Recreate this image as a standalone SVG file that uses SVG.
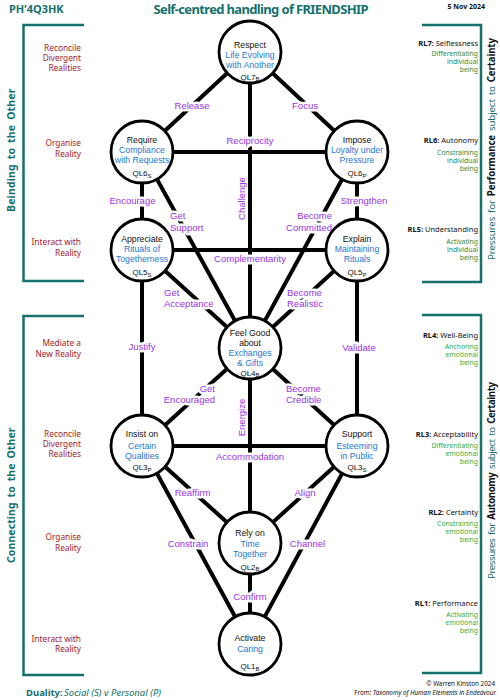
<svg xmlns="http://www.w3.org/2000/svg" width="500" height="700" viewBox="0 0 500 700">
<style>
text{font-family:"Noto Sans","Open Sans",sans-serif}
.n{font-family:"Liberation Sans",Arial,sans-serif;font-size:8.7px;fill:#111;text-anchor:middle}
.bl{fill:#1e78d0}
.ql{font-family:"Liberation Sans",Arial,sans-serif;font-size:8px;fill:#111;text-anchor:middle}
.lb{font-family:"Liberation Sans",Arial,sans-serif;font-size:9.5px;fill:#9a33e6;stroke:#fff;stroke-width:5;paint-order:stroke;stroke-linejoin:round}
.rot{font-family:"Liberation Sans",Arial,sans-serif;font-size:9.5px;fill:#9a33e6;text-anchor:middle}
.mid{text-anchor:middle}
.end{text-anchor:end}
.red{font-size:8.3px;fill:#a3202b;text-anchor:end}
.rl{font-size:7.5px;fill:#111;text-anchor:end}
.g1{font-size:6.8px;fill:#2b8a3e;text-anchor:end}
.g2{font-size:6.8px;fill:#1fae4a;text-anchor:end}
.teal{fill:#16706c}
.br{fill:none;stroke:#16706c;stroke-width:2.5}
.c{fill:#fff;stroke:#000;stroke-width:2.8}
#connectors line{stroke:#000;stroke-width:4}
</style>
<rect width="500" height="700" fill="#fff"/>

<!-- header -->
<text x="9" y="12.5" font-size="11" font-weight="bold" class="teal">PH’4Q3HK</text>
<text x="261" y="13.5" font-size="13" font-weight="bold" class="teal mid" textLength="215">Self-centred handling of FRIENDSHIP</text>
<text x="485" y="9" font-size="7" font-weight="bold" fill="#111" class="end">5 Nov 2024</text>

<!-- brackets -->
<g id="brackets">
<polyline class="br" points="84,25 23.5,25 23.5,281 84,281"/>
<polyline class="br" points="84,316 23.5,316 23.5,675 84,675"/>
<polyline class="br" points="422,25 481,25 481,282 422,282"/>
<polyline class="br" points="422,315 481,315 481,673 422,673"/>
</g>

<text transform="translate(14.7,150) rotate(-90)" font-size="10.5" font-weight="bold" class="teal mid" letter-spacing="0.5" word-spacing="2" textLength="124">Beinding to the Other</text>
<text transform="translate(14.7,495) rotate(-90)" font-size="10.5" font-weight="bold" class="teal mid" letter-spacing="0.5" word-spacing="2" textLength="136">Connecting to the Other</text>
<text transform="translate(494.5,149) rotate(-90)" font-size="9.7" class="teal mid" word-spacing="1.5" textLength="222">Pressures for <tspan font-weight="bold" fill="#111">Performance</tspan> subject to <tspan font-weight="bold" fill="#111">Certainty</tspan></text>
<text transform="translate(494.5,480.5) rotate(-90)" font-size="9.7" class="teal mid" word-spacing="1.5" textLength="197">Pressures for <tspan font-weight="bold" fill="#111">Autonomy</tspan> subject to <tspan font-weight="bold" fill="#111">Certainty</tspan></text>

<!-- left level labels -->
<g id="left-labels">
<text class="red" x="81" y="51">Reconcile</text>
<text class="red" x="81" y="61">Divergent</text>
<text class="red" x="81" y="71">Realities</text>
<text class="red" x="81" y="146">Organise</text>
<text class="red" x="81" y="157">Reality</text>
<text class="red" x="81" y="245">Interact with</text>
<text class="red" x="81" y="256">Reality</text>
<text class="red" x="81" y="346">Mediate a</text>
<text class="red" x="81" y="357">New Reality</text>
<text class="red" x="81" y="437">Reconcile</text>
<text class="red" x="81" y="447">Divergent</text>
<text class="red" x="81" y="457">Realities</text>
<text class="red" x="81" y="540">Organise</text>
<text class="red" x="81" y="551">Reality</text>
<text class="red" x="81" y="642">Interact with</text>
<text class="red" x="81" y="652">Reality</text>
</g>

<!-- right level labels -->
<g id="right-labels">
<text class="rl" x="478" y="45.5"><tspan font-weight="bold">RL7:</tspan> Selflessness</text>
<text class="g1" x="478" y="55.5">Differentiating</text>
<text class="g1" x="478" y="63.5">individual</text>
<text class="g1" x="478" y="71.5">being</text>
<text class="rl" x="478" y="142.5"><tspan font-weight="bold">RL6:</tspan> Autonomy</text>
<text class="g1" x="478" y="154.5">Constraining</text>
<text class="g1" x="478" y="162.5">individual</text>
<text class="g1" x="478" y="170.5">being</text>
<text class="rl" x="478" y="231.5"><tspan font-weight="bold">RL5:</tspan> Understanding</text>
<text class="g1" x="478" y="243.5">Activating</text>
<text class="g1" x="478" y="251.5">individual</text>
<text class="g1" x="478" y="259.5">being</text>
<text class="rl" x="478" y="337.5"><tspan font-weight="bold">RL4:</tspan> Well-Being</text>
<text class="g2" x="478" y="348.5">Anchoring</text>
<text class="g2" x="478" y="356.5">emotional</text>
<text class="g2" x="478" y="364.5">being</text>
<text class="rl" x="478" y="436.5"><tspan font-weight="bold">RL3:</tspan> Acceptability</text>
<text class="g2" x="478" y="447.5">Differentiating</text>
<text class="g2" x="478" y="455.5">emotional</text>
<text class="g2" x="478" y="463.5">being</text>
<text class="rl" x="478" y="514.5"><tspan font-weight="bold">RL2:</tspan> Certainty</text>
<text class="g2" x="478" y="525.5">Constraining</text>
<text class="g2" x="478" y="533.5">emotional</text>
<text class="g2" x="478" y="541.5">being</text>
<text class="rl" x="478" y="605.5"><tspan font-weight="bold">RL1:</tspan> Performance</text>
<text class="g2" x="478" y="616.5">Activating</text>
<text class="g2" x="478" y="624.5">emotional</text>
<text class="g2" x="478" y="632.5">being</text>
</g>

<!-- connectors -->
<g id="connectors">
<line x1="250" y1="52" x2="142" y2="152"/>
<line x1="250" y1="52" x2="357" y2="152"/>
<line x1="250" y1="52" x2="250" y2="348"/>
<line x1="142" y1="152" x2="357" y2="152"/>
<line x1="142" y1="152" x2="142" y2="446"/>
<line x1="357" y1="152" x2="357" y2="446"/>
<line x1="142" y1="152" x2="250" y2="348"/>
<line x1="357" y1="152" x2="250" y2="348"/>
<line x1="142" y1="250" x2="357" y2="250"/>
<line x1="142" y1="250" x2="250" y2="348"/>
<line x1="357" y1="250" x2="250" y2="348"/>
<line x1="250" y1="348" x2="142" y2="446"/>
<line x1="250" y1="348" x2="357" y2="446"/>
<line x1="250" y1="348" x2="250" y2="644"/>
<line x1="142" y1="446" x2="357" y2="446"/>
<line x1="142" y1="446" x2="250" y2="543"/>
<line x1="357" y1="446" x2="250" y2="543"/>
<line x1="142" y1="446" x2="250" y2="644"/>
<line x1="357" y1="446" x2="250" y2="644"/>
</g>

<!-- connector labels -->
<g id="connector-labels">
<text class="lb mid" x="192" y="108.5">Release</text>
<text class="lb mid" x="305" y="108.5">Focus</text>
<text class="lb mid" x="250" y="143.5">Reciprocity</text>
<text class="lb mid" x="132.5" y="204">Encourage</text>
<text class="lb mid" x="364" y="204">Strengthen</text>
<text class="lb" x="170" y="219">Get</text>
<text class="lb" x="170" y="230.5">Support</text>
<text class="lb end" x="332" y="219">Become</text>
<text class="lb end" x="332" y="230.5">Committed</text>
<text class="rot" transform="translate(244.5,198.5) rotate(-90)">Challenge</text>
<text class="lb mid" x="250" y="261.5">Complementarity</text>
<text class="lb" x="164" y="296">Get</text>
<text class="lb" x="164" y="306.5">Acceptance</text>
<text class="lb" x="287" y="296">Become</text>
<text class="lb" x="287" y="306.5">Realistic</text>
<text class="lb mid" x="142" y="349.5">Justify</text>
<text class="lb mid" x="359" y="350.5">Validate</text>
<text class="lb end" x="215" y="392">Get</text>
<text class="lb end" x="215" y="402.5">Encouraged</text>
<text class="lb" x="286" y="392">Become</text>
<text class="lb" x="286" y="402.5">Credible</text>
<text class="rot" transform="translate(244.5,417.5) rotate(-90)">Energize</text>
<text class="lb mid" x="250" y="459.5">Accommodation</text>
<text class="lb mid" x="192.5" y="495.5">Reaffirm</text>
<text class="lb mid" x="305" y="495.5">Align</text>
<text class="lb mid" x="188" y="546.5">Constrain</text>
<text class="lb mid" x="307.5" y="546.5">Channel</text>
<text class="lb mid" x="250" y="599.5">Confirm</text>
</g>

<!-- nodes -->
<g id="QL7">
<circle class="c" cx="250" cy="52" r="31"/>
<text class="n" x="250" y="47.5">Respect</text>
<text class="n bl" x="250" y="57.5">Life Evolving</text>
<text class="n bl" x="250" y="67.5">with Another</text>
<text class="ql" x="250" y="79.5">QL7<tspan font-size="6" dy="1.5">B</tspan></text>
</g>
<g id="QL6S">
<circle class="c" cx="142" cy="152" r="31"/>
<text class="n" x="142" y="142.5">Require</text>
<text class="n bl" x="142" y="153">Compliance</text>
<text class="n bl" x="142" y="163">with Requests</text>
<text class="ql" x="142" y="176">QL6<tspan font-size="6" dy="1.5">S</tspan></text>
</g>
<g id="QL6P">
<circle class="c" cx="357" cy="152" r="31"/>
<text class="n" x="357" y="142.5">Impose</text>
<text class="n bl" x="357" y="153">Loyalty under</text>
<text class="n bl" x="357" y="163">Pressure</text>
<text class="ql" x="357" y="176">QL6<tspan font-size="6" dy="1.5">P</tspan></text>
</g>
<g id="QL5S">
<circle class="c" cx="142" cy="250" r="31"/>
<text class="n" x="142" y="241.5">Appreciate</text>
<text class="n bl" x="142" y="252">Rituals of</text>
<text class="n bl" x="142" y="262">Togetherness</text>
<text class="ql" x="142" y="275">QL5<tspan font-size="6" dy="1.5">S</tspan></text>
</g>
<g id="QL5P">
<circle class="c" cx="357" cy="250" r="31"/>
<text class="n" x="357" y="241.5">Explain</text>
<text class="n bl" x="357" y="252">Maintaining</text>
<text class="n bl" x="357" y="262">Rituals</text>
<text class="ql" x="357" y="275">QL5<tspan font-size="6" dy="1.5">P</tspan></text>
</g>
<g id="QL4">
<circle class="c" cx="250" cy="348" r="31"/>
<text class="n" x="250" y="336">Feel Good</text>
<text class="n" x="250" y="345.5">about</text>
<text class="n bl" x="250" y="355.5">Exchanges</text>
<text class="n bl" x="250" y="365.5">&amp; Gifts</text>
<text class="ql" x="250" y="375.5">QL4<tspan font-size="6" dy="1.5">B</tspan></text>
</g>
<g id="QL3P">
<circle class="c" cx="142" cy="446" r="31"/>
<text class="n" x="142" y="437">Insist on</text>
<text class="n bl" x="142" y="448.5">Certain</text>
<text class="n bl" x="142" y="458.5">Qualities</text>
<text class="ql" x="142" y="470">QL3<tspan font-size="6" dy="1.5">P</tspan></text>
</g>
<g id="QL3S">
<circle class="c" cx="357" cy="446" r="31"/>
<text class="n" x="357" y="437">Support</text>
<text class="n bl" x="357" y="448.5">Esteeming</text>
<text class="n bl" x="357" y="458.5">in Public</text>
<text class="ql" x="357" y="470">QL3<tspan font-size="6" dy="1.5">S</tspan></text>
</g>
<g id="QL2">
<circle class="c" cx="250" cy="543" r="31"/>
<text class="n" x="250" y="536">Rely on</text>
<text class="n bl" x="250" y="546.5">Time</text>
<text class="n bl" x="250" y="557">Together</text>
<text class="ql" x="250" y="569.5">QL2<tspan font-size="6" dy="1.5">B</tspan></text>
</g>
<g id="QL1">
<circle class="c" cx="250" cy="644" r="31"/>
<text class="n" x="250" y="640.5">Activate</text>
<text class="n bl" x="250" y="651.5">Caring</text>
<text class="ql" x="250" y="669">QL1<tspan font-size="6" dy="1.5">B</tspan></text>
</g>

<!-- footer -->
<text x="26" y="695.5" font-size="9.5" font-weight="bold" class="teal">Duality:</text>
<text x="64" y="695.5" font-size="9.5" font-style="italic" class="teal">Social (S)</text>
<text x="104" y="695.5" font-size="9.5" font-style="italic" class="teal">v</text>
<text x="111" y="695.5" font-size="9.5" font-style="italic" class="teal">Personal (P)</text>
<text x="495" y="685.5" font-size="6.3" fill="#111" class="end">© Warren Kinston  2024</text>
<text x="496" y="694.5" font-size="6.3" fill="#111" class="end">From: <tspan font-style="italic">Taxonomy of Human Elements in Endeavour</tspan></text>
</svg>
